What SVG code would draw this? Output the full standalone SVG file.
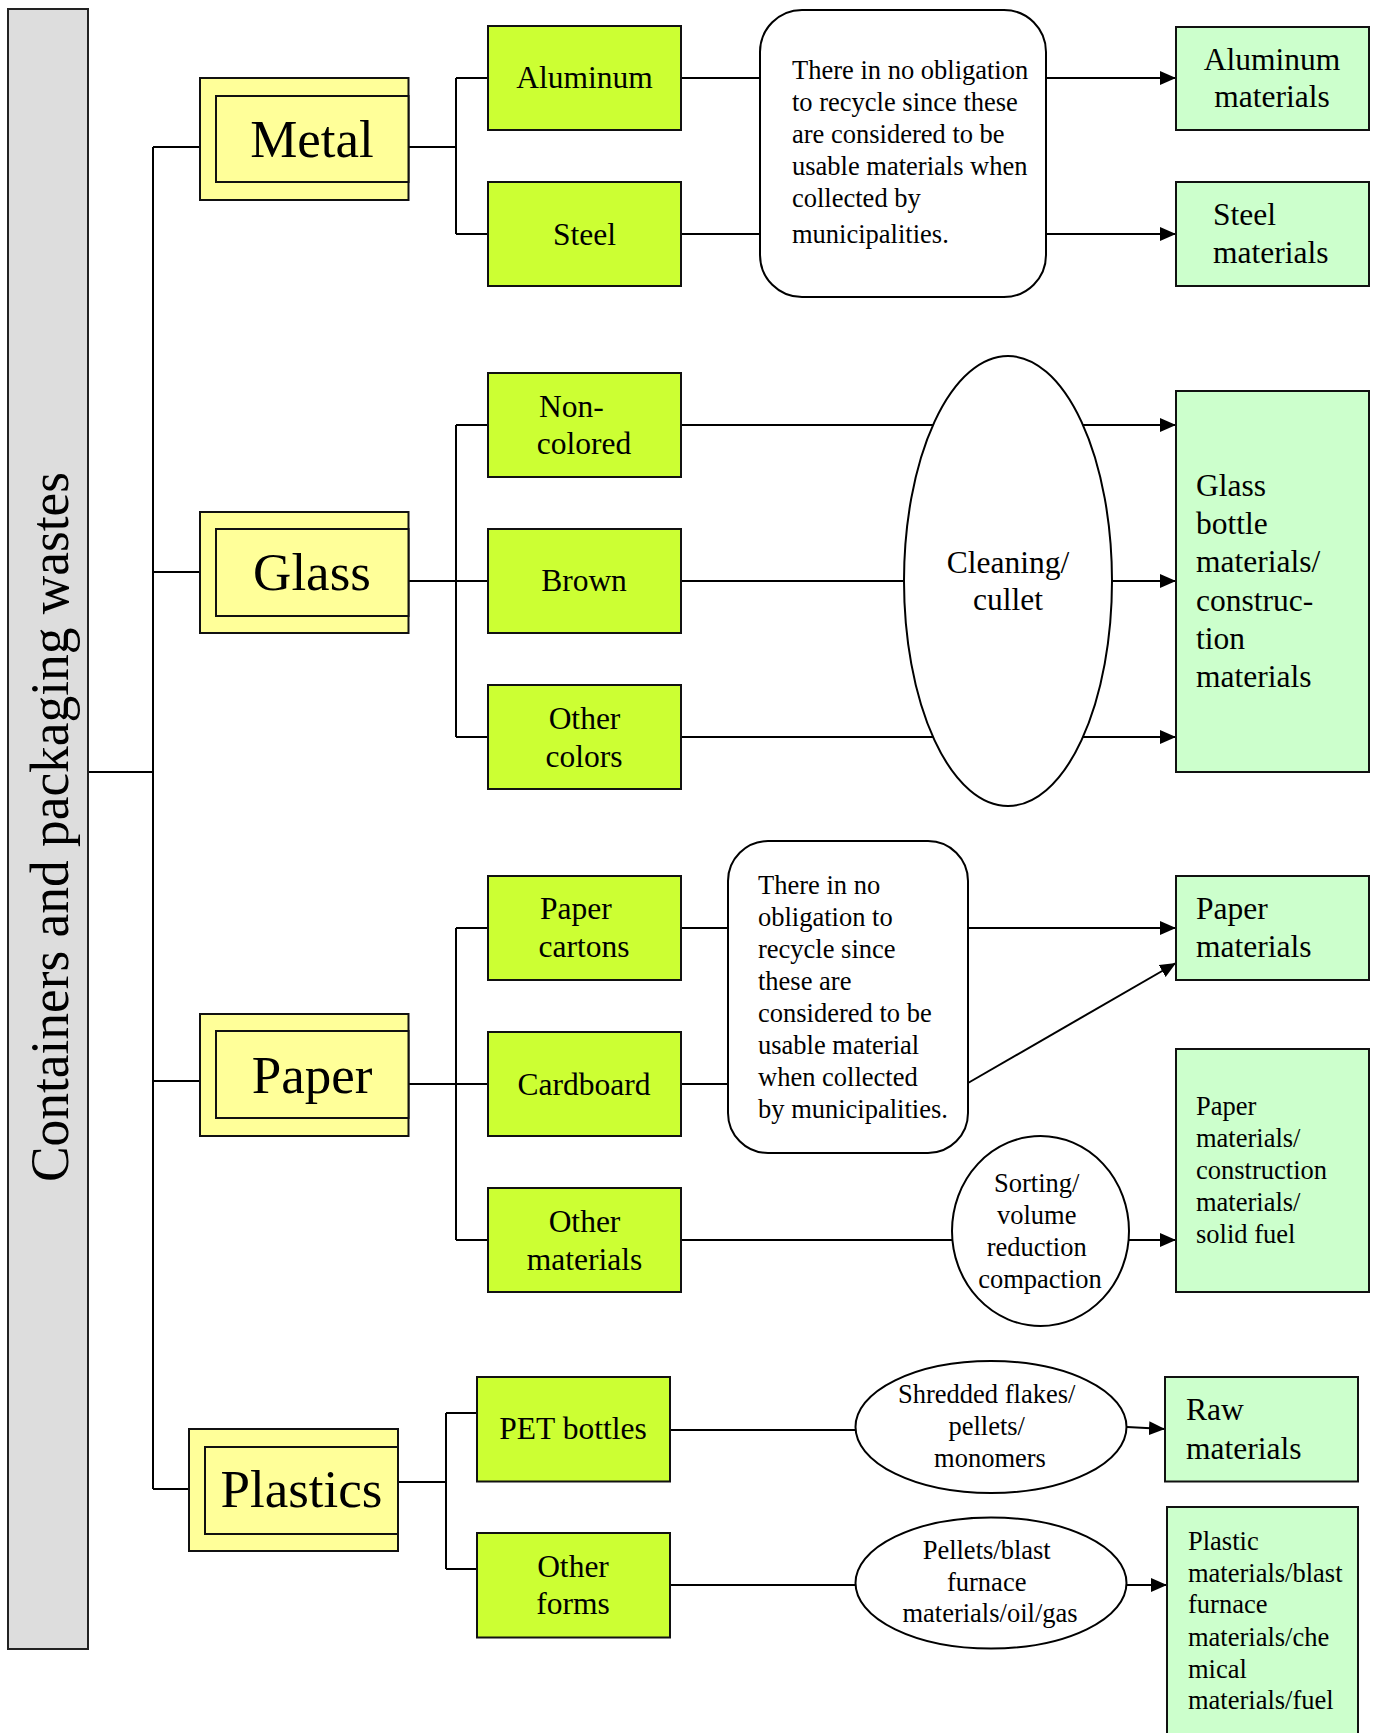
<svg xmlns="http://www.w3.org/2000/svg" width="1378" height="1733" viewBox="0 0 1378 1733">
  <style>
    text { font-family: "Liberation Serif", "Times New Roman", serif; fill: #000; }
    .bar { fill: #dddddd; stroke: #222; stroke-width: 2; }
    .cat { fill: #ffff99; stroke: #111; stroke-width: 2; }
    .sub { fill: #ccff33; stroke: #111; stroke-width: 2; }
    .out { fill: #ccffcc; stroke: #111; stroke-width: 2; }
    .proc { fill: #fff; stroke: #000; stroke-width: 2; }
    .wire { fill: none; stroke: #000; stroke-width: 2; }
    .big { font-size: 53px; text-anchor: middle; }
    .mid { font-size: 31.5px; }
    .c { text-anchor: middle; }
    .small { font-size: 26.5px; }
  </style>
  <defs>
    <marker id="arrow" markerUnits="userSpaceOnUse" markerWidth="17" markerHeight="14" refX="16" refY="7" orient="auto">
      <path d="M0,0 L16,7 L0,14 z" fill="#000"/>
    </marker>
  </defs>

  <rect width="1378" height="1733" fill="#fff"/>

  <!-- connectors -->
  <g id="connectors" class="wire">
    <path d="M88 772 H153"/>
    <path d="M153 147 V1489"/>
    <path d="M153 147 H200"/>
    <path d="M153 572 H200"/>
    <path d="M153 1081 H200"/>
    <path d="M153 1489 H189"/>

    <path d="M408.5 147 H456 M456 78 V234 M456 78 H488 M456 234 H488"/>
    <path d="M408.5 581 H456 M456 425 V737 M456 425 H488 M456 581 H488 M456 737 H488"/>
    <path d="M408.5 1084 H456 M456 928 V1240 M456 928 H488 M456 1084 H488 M456 1240 H488"/>
    <path d="M398 1482 H446 M446 1413 V1569 M446 1413 H477 M446 1569 H477"/>

    <path d="M681 78 H760 M681 234 H760"/>
    <path d="M1046 78 H1176" marker-end="url(#arrow)"/>
    <path d="M1046 234 H1176" marker-end="url(#arrow)"/>

    <path d="M681 425 H933 M681 581 H904 M681 737 H933"/>
    <path d="M1083 425 H1176" marker-end="url(#arrow)"/>
    <path d="M1112 581 H1176" marker-end="url(#arrow)"/>
    <path d="M1083 737 H1176" marker-end="url(#arrow)"/>

    <path d="M681 928 H728 M681 1084 H728"/>
    <path d="M968 928 H1176" marker-end="url(#arrow)"/>
    <path d="M968 1083 L1176 963" marker-end="url(#arrow)"/>
    <path d="M681 1240 H952"/>
    <path d="M1129 1240 H1176" marker-end="url(#arrow)"/>

    <path d="M670 1430 H856"/>
    <path d="M1127 1427 L1165 1429" marker-end="url(#arrow)"/>
    <path d="M670 1585 H856"/>
    <path d="M1127 1585 H1167" marker-end="url(#arrow)"/>
  </g>

  <!-- root -->
  <g id="containers">
    <rect class="bar" x="8" y="9" width="80" height="1640"/>
    <text transform="translate(68,1182) rotate(-90)" font-size="55" textLength="710" lengthAdjust="spacingAndGlyphs">Containers and packaging wastes</text>
  </g>

  <!-- categories -->
  <g id="metal">
    <rect class="cat" x="200" y="78" width="208.5" height="122"/>
    <rect class="cat" x="216" y="96" width="192.5" height="86"/>
    <text class="big" x="312" y="157">Metal</text>
  </g>
  <g id="glass">
    <rect class="cat" x="200" y="512" width="208.5" height="121"/>
    <rect class="cat" x="216" y="529" width="192.5" height="87"/>
    <text class="big" x="312" y="590">Glass</text>
  </g>
  <g id="paper">
    <rect class="cat" x="200" y="1014" width="208.5" height="122"/>
    <rect class="cat" x="216" y="1031" width="192.5" height="87"/>
    <text class="big" x="312" y="1093">Paper</text>
  </g>
  <g id="plastics">
    <rect class="cat" x="189" y="1429" width="209" height="122"/>
    <rect class="cat" x="205" y="1447" width="193" height="87"/>
    <text class="big" x="301.5" y="1507">Plastics</text>
  </g>

  <!-- sub-types -->
  <g id="aluminum">
    <rect class="sub" x="488" y="26" width="193" height="104"/>
    <text class="mid c" x="584.5" y="88">Aluminum</text>
  </g>
  <g id="steel">
    <rect class="sub" x="488" y="182" width="193" height="104"/>
    <text class="mid c" x="584.5" y="245">Steel</text>
  </g>
  <g id="non-colored">
    <rect class="sub" x="488" y="373" width="193" height="104"/>
    <text class="mid" x="539" y="417">Non-</text>
    <text class="mid c" x="584" y="454">colored</text>
  </g>
  <g id="brown">
    <rect class="sub" x="488" y="529" width="193" height="104"/>
    <text class="mid c" x="584" y="591">Brown</text>
  </g>
  <g id="other-colors">
    <rect class="sub" x="488" y="685" width="193" height="104"/>
    <text class="mid c" x="584.5" y="729">Other</text>
    <text class="mid c" x="584" y="767">colors</text>
  </g>
  <g id="paper-cartons">
    <rect class="sub" x="488" y="876" width="193" height="104"/>
    <text class="mid" x="540" y="919">Paper</text>
    <text class="mid c" x="584" y="957">cartons</text>
  </g>
  <g id="cardboard">
    <rect class="sub" x="488" y="1032" width="193" height="104"/>
    <text class="mid c" x="584" y="1095">Cardboard</text>
  </g>
  <g id="other-materials">
    <rect class="sub" x="488" y="1188" width="193" height="104"/>
    <text class="mid c" x="584.5" y="1232">Other</text>
    <text class="mid c" x="584.5" y="1270">materials</text>
  </g>
  <g id="pet-bottles">
    <rect class="sub" x="477" y="1377" width="193" height="104.5"/>
    <text class="mid c" x="573" y="1439">PET bottles</text>
  </g>
  <g id="other-forms">
    <rect class="sub" x="477" y="1533" width="193" height="104.5"/>
    <text class="mid c" x="573" y="1577">Other</text>
    <text class="mid c" x="573" y="1614">forms</text>
  </g>

  <!-- processing steps -->
  <g id="metal-note">
    <rect class="proc" x="760" y="10" width="286" height="287" rx="42" ry="42"/>
    <text class="small" x="792">
      <tspan x="792" y="79">There in no obligation</tspan>
      <tspan x="792" y="111">to recycle since these</tspan>
      <tspan x="792" y="143">are considered to be</tspan>
      <tspan x="792" y="175">usable materials when</tspan>
      <tspan x="792" y="207">collected by</tspan>
      <tspan x="792" y="243">municipalities.</tspan>
    </text>
  </g>
  <g id="cleaning-cullet">
    <ellipse class="proc" cx="1008" cy="581" rx="104" ry="225"/>
    <text class="mid c" x="1008" y="573">Cleaning/</text>
    <text class="mid c" x="1008" y="610">cullet</text>
  </g>
  <g id="paper-note">
    <rect class="proc" x="728" y="841" width="240" height="312" rx="40" ry="40"/>
    <text class="small">
      <tspan x="758" y="894">There in no</tspan>
      <tspan x="758" y="926">obligation to</tspan>
      <tspan x="758" y="958">recycle since</tspan>
      <tspan x="758" y="990">these are</tspan>
      <tspan x="758" y="1022">considered to be</tspan>
      <tspan x="758" y="1054">usable material</tspan>
      <tspan x="758" y="1086">when collected</tspan>
      <tspan x="758" y="1118">by municipalities.</tspan>
    </text>
  </g>
  <g id="sorting">
    <ellipse class="proc" cx="1040.5" cy="1231" rx="88.5" ry="95"/>
    <text class="small c">
      <tspan x="1040" y="1192">Sorting/</tspan>
      <tspan x="1040" y="1224">volume</tspan>
      <tspan x="1040" y="1256">reduction</tspan>
      <tspan x="1040" y="1288">compaction</tspan>
    </text>
  </g>
  <g id="shredded">
    <ellipse class="proc" cx="991" cy="1427" rx="135.5" ry="66"/>
    <text class="small c">
      <tspan x="990" y="1403">Shredded flakes/</tspan>
      <tspan x="990" y="1435">pellets/</tspan>
      <tspan x="990" y="1467">monomers</tspan>
    </text>
  </g>
  <g id="pellets">
    <ellipse class="proc" cx="991" cy="1583" rx="135.5" ry="65.5"/>
    <text class="small c">
      <tspan x="990" y="1559">Pellets/blast</tspan>
      <tspan x="990" y="1591">furnace</tspan>
      <tspan x="990" y="1622">materials/oil/gas</tspan>
    </text>
  </g>

  <!-- outputs -->
  <g id="aluminum-materials">
    <rect class="out" x="1176" y="27" width="193" height="103"/>
    <text class="mid c" x="1272" y="70">Aluminum</text>
    <text class="mid c" x="1272" y="107">materials</text>
  </g>
  <g id="steel-materials">
    <rect class="out" x="1176" y="182" width="193" height="104"/>
    <text class="mid" x="1213" y="225">Steel</text>
    <text class="mid" x="1213" y="263">materials</text>
  </g>
  <g id="glass-materials">
    <rect class="out" x="1176" y="391" width="193" height="381"/>
    <text class="mid">
      <tspan x="1196" y="496">Glass</tspan>
      <tspan x="1196" y="534">bottle</tspan>
      <tspan x="1196" y="572">materials/</tspan>
      <tspan x="1196" y="611">construc-</tspan>
      <tspan x="1196" y="649">tion</tspan>
      <tspan x="1196" y="687">materials</tspan>
    </text>
  </g>
  <g id="paper-materials">
    <rect class="out" x="1176" y="876" width="193" height="104"/>
    <text class="mid">
      <tspan x="1196" y="919">Paper</tspan>
      <tspan x="1196" y="957">materials</tspan>
    </text>
  </g>
  <g id="paper-construction-fuel">
    <rect class="out" x="1176" y="1049" width="193" height="243"/>
    <text class="small">
      <tspan x="1196" y="1115">Paper</tspan>
      <tspan x="1196" y="1147">materials/</tspan>
      <tspan x="1196" y="1179">construction</tspan>
      <tspan x="1196" y="1211">materials/</tspan>
      <tspan x="1196" y="1243">solid fuel</tspan>
    </text>
  </g>
  <g id="raw-materials">
    <rect class="out" x="1165" y="1377" width="193" height="104.5"/>
    <text class="mid">
      <tspan x="1186" y="1420">Raw</tspan>
      <tspan x="1186" y="1459">materials</tspan>
    </text>
  </g>
  <g id="plastic-materials">
    <rect class="out" x="1167" y="1507" width="191" height="250"/>
    <text class="small">
      <tspan x="1188" y="1550">Plastic</tspan>
      <tspan x="1188" y="1582">materials/blast</tspan>
      <tspan x="1188" y="1613">furnace</tspan>
      <tspan x="1188" y="1646">materials/che</tspan>
      <tspan x="1188" y="1678">mical</tspan>
      <tspan x="1188" y="1709">materials/fuel</tspan>
    </text>
  </g>
</svg>
